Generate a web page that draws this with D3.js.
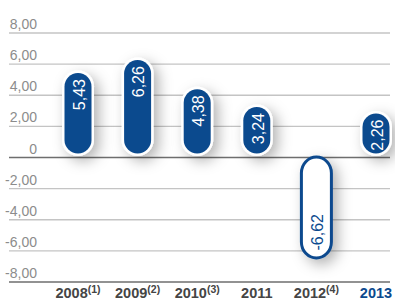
<!DOCTYPE html>
<html>
<head>
<meta charset="utf-8">
<script src="https://cdn.jsdelivr.net/npm/d3@7"></script>
<style>
  html, body { margin: 0; padding: 0; background: #fff; }
  svg { display: block; font-family: "Liberation Sans", Arial, Helvetica, sans-serif; }
</style>
</head>
<body>
<svg id="chart" width="395" height="306"></svg>
<script>
// values
var years = ['2008', '2009', '2010', '2011', '2012', '2013']
var notes = ['(1)', '(2)', '(3)', '', '(4)', '']
var values = [5.43, 6.26, 4.38, 3.24, -6.62, 2.26]
var yTicks = [8, 6, 4, 2, 0, -2, -4, -6, -8]

var blue = '#0b4a8e'

var locale = d3.formatLocale({ decimal: ',', thousands: '.', grouping: [3], currency: ['', ''], minus: '-' })
var fmt = locale.format('.2f')

var svg = d3.select('#chart')

var y = d3.scaleLinear().domain([-8, 8]).range([282, 33])
var x = d3.scalePoint().domain(years).range([78, 376])

// soft shadow behind the pills
var defs = svg.append('defs')
var f = defs.append('filter').attr('id', 'shadow')
  .attr('x', '-100%').attr('y', '-50%').attr('width', '300%').attr('height', '200%')
f.append('feDropShadow')
  .attr('dx', 5).attr('dy', 5).attr('stdDeviation', 7)
  .attr('flood-color', '#000').attr('flood-opacity', 0.3)

// grid + y labels
var grid = svg.append('g')
grid.selectAll('line')
  .data(yTicks)
  .enter()
  .append('line')
  .attr('x1', 9).attr('x2', 390)
  .attr('y1', function(d) { return y(d) })
  .attr('y2', function(d) { return y(d) })
  .attr('stroke', function(d) { return d === 0 || d === -8 ? '#6e6e6e' : '#c4c4c4' })
  .attr('stroke-width', 1.4)

grid.selectAll('text')
  .data(yTicks)
  .enter()
  .append('text')
  .attr('x', 37)
  .attr('y', function(d) { return y(d) - 4 })
  .attr('text-anchor', 'end')
  .attr('font-size', 14)
  .attr('fill', '#8c8c8c')
  .text(function(d) { return d === 0 ? '0' : fmt(d) })

// bars as pills
var w = 27
var minLen = 40
var bars = svg.append('g')
  .selectAll('g')
  .data(values.map(function(v, i) { return { year: years[i], v: v } }))
  .enter()
  .append('g')

bars.each(function(d) {
  var g = d3.select(this)
  var cx = x(d.year)
  var top, bot
  if (d.v >= 0) {
    bot = y(0) - 4
    top = Math.min(y(d.v), bot - minLen)
  } else {
    top = y(0) + 1
    bot = Math.max(y(d.v) - 4, top + minLen)
  }
  var neg = d.v < 0
  g.append('rect')
    .attr('x', cx - w / 2 - (neg ? 1.5 : 2.5))
    .attr('y', top - (neg ? 1.5 : 2.5))
    .attr('width', w + (neg ? 3 : 5))
    .attr('height', bot - top + (neg ? 3 : 5))
    .attr('rx', (w + 5) / 2)
    .attr('fill', '#fff')
    .attr('stroke', neg ? blue : 'none')
    .attr('stroke-width', 3)
    .attr('filter', 'url(#shadow)')
  if (!neg) {
    g.append('rect')
      .attr('x', cx - w / 2)
      .attr('y', top)
      .attr('width', w)
      .attr('height', bot - top)
      .attr('rx', w / 2)
      .attr('fill', blue)
  }
  var tx = neg ? bot - 6 : top + 6
  g.append('text')
    .attr('transform', 'translate(' + (cx + 1) + ',' + tx + ') rotate(-90)')
    .attr('text-anchor', neg ? 'start' : 'end')
    .attr('dy', '0.36em')
    .attr('font-size', 16)
    .attr('fill', neg ? blue : '#fff')
    .text(fmt(d.v))
})

// x labels with footnote marks
var xl = svg.append('g')
  .selectAll('text')
  .data(years)
  .enter()
  .append('text')
  .attr('x', function(d) { return x(d) })
  .attr('y', 298)
  .attr('text-anchor', 'middle')
  .attr('font-size', 14.5)
  .attr('font-weight', 'bold')
  .attr('fill', function(d, i) { return i === years.length - 1 ? blue : '#454545' })

xl.append('tspan').text(function(d) { return d })
xl.filter(function(d, i) { return notes[i] })
  .append('tspan')
  .attr('dy', -5)
  .attr('font-size', 10.5)
  .text(function(d) { return notes[years.indexOf(d)] })
</script>
</body>
</html>
